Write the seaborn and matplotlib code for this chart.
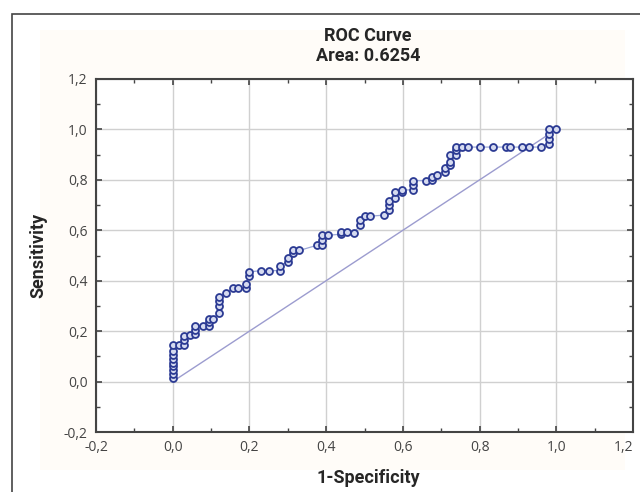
import matplotlib
matplotlib.use("Agg")
import matplotlib.pyplot as plt
import matplotlib.patches as mpatches
from matplotlib.ticker import MultipleLocator
import numpy as np
import pandas as pd
import seaborn as sns

# ROC 曲線數據
fpr = [0.0, 0.0, 0.0, 0.0, 0.0, 0.0, 0.0, 0.0, 0.0,
       0.016, 0.029, 0.029, 0.029, 0.044, 0.059, 0.059, 0.059,
       0.078, 0.094, 0.094, 0.094, 0.104,
       0.12, 0.12, 0.12, 0.12, 0.14, 0.156, 0.17, 0.19, 0.19,
       0.20, 0.20, 0.23, 0.25, 0.28, 0.28, 0.30, 0.30, 0.314, 0.314,
       0.33, 0.375, 0.39, 0.39, 0.39, 0.405, 0.44, 0.44, 0.455, 0.473,
       0.488, 0.488, 0.50, 0.515, 0.55, 0.564, 0.564, 0.564, 0.58, 0.58,
       0.598, 0.598, 0.627, 0.627, 0.627, 0.66, 0.675, 0.675, 0.69,
       0.709, 0.709, 0.722, 0.722, 0.722, 0.738, 0.738, 0.738,
       0.755, 0.77, 0.80, 0.835, 0.868, 0.88, 0.91, 0.93, 0.96,
       0.98, 0.98, 0.98, 0.98, 1.0]
tpr = [0.015, 0.03, 0.045, 0.06, 0.075, 0.09, 0.105, 0.12, 0.145,
       0.146, 0.146, 0.165, 0.18, 0.186, 0.19, 0.205, 0.22,
       0.22, 0.22, 0.235, 0.25, 0.25,
       0.27, 0.30, 0.32, 0.336, 0.35, 0.37, 0.37, 0.37, 0.385,
       0.42, 0.435, 0.44, 0.44, 0.44, 0.46, 0.475, 0.49, 0.51, 0.52,
       0.52, 0.54, 0.54, 0.56, 0.58, 0.58, 0.585, 0.595, 0.595, 0.59,
       0.62, 0.64, 0.656, 0.656, 0.66, 0.68, 0.70, 0.715, 0.73, 0.75,
       0.75, 0.76, 0.76, 0.78, 0.797, 0.797, 0.80, 0.81, 0.82,
       0.833, 0.846, 0.86, 0.872, 0.898, 0.898, 0.918, 0.93,
       0.93, 0.93, 0.93, 0.93, 0.93, 0.93, 0.93, 0.93, 0.93,
       0.944, 0.963, 0.983, 1.0, 1.0]
diag = [0.0, 1.0]

ticks = [-0.2, 0.0, 0.2, 0.4, 0.6, 0.8, 1.0, 1.2]
tick_labels = ["-0,2", "0,0", "0,2", "0,4", "0,6", "0,8", "1,0", "1,2"]

title_text = "ROC Curve\nArea: 0.6254"
xlabel_text = "1-Specificity"
ylabel_text = "Sensitivity"

df = pd.DataFrame({"fpr": fpr, "tpr": tpr})

sns.set_style("ticks")
plt.rcParams['font.family'] = ['Open Sans', 'DejaVu Sans']
bold_family = ['Roboto', 'DejaVu Sans']

fig = plt.figure(figsize=(6.4, 4.92), dpi=100)

# 外框與淡色背景
fig.patches.append(mpatches.Rectangle((40 / 640, 1 - 470 / 492), 585 / 640, 440 / 492,
                                      transform=fig.transFigure, facecolor="#fffcf8",
                                      edgecolor="none", zorder=-2))
fig.patches.append(mpatches.Rectangle((12 / 640, -0.1), 1.2, 1 - 14 / 492 + 0.1,
                                      transform=fig.transFigure, facecolor="none",
                                      edgecolor="#444444", lw=1.2, zorder=-1))

ax = fig.add_axes([96 / 640, 1 - 432 / 492, (633 - 96) / 640, (432 - 79) / 492])
ax.set_zorder(3)
ax.set_facecolor("white")

ax.plot(diag, diag, color="#9c9ccf", lw=1.0, zorder=2)
sns.lineplot(data=df, x="fpr", y="tpr", sort=False, estimator=None, ax=ax,
             color="#9aa6d6", lw=0.9, marker="o", markersize=5,
             markerfacecolor="#d6dbf0", markeredgecolor="#2b3a93",
             markeredgewidth=1.3, zorder=3)

ax.set_xlim(-0.2, 1.2)
ax.set_ylim(-0.2, 1.2)
ax.set_xticks(ticks, tick_labels)
ax.set_yticks(ticks, tick_labels)
ax.xaxis.set_minor_locator(MultipleLocator(0.1))
ax.yaxis.set_minor_locator(MultipleLocator(0.1))
ax.grid(True, which="major", color="#d0d0d0", lw=1.0)
ax.tick_params(which="both", direction="in", top=True, right=True,
               color="#444444", labelsize=10, labelcolor="#444444")
ax.tick_params(which="major", length=4, width=1.2, pad=6)
ax.tick_params(which="minor", length=3, width=1.0)
for s in ax.spines.values():
    s.set_color("#444444")
    s.set_linewidth(1.5)

# 最右邊的刻度標籤靠右對齊，避免被裁切
ax.get_xticklabels()[-1].set_horizontalalignment("right")

ax.set_xlabel("")
ax.set_ylabel("")
fig.text(368 / 640, 1 - 46 / 492, title_text, ha="center", va="center",
         fontsize=13, fontweight="bold", family=bold_family, linespacing=1.2)
fig.text(368 / 640, 1 - 478 / 492, xlabel_text, ha="center", va="center",
         fontsize=13, fontweight="bold", family=bold_family)
fig.text(38 / 640, 1 - 255 / 492, ylabel_text, ha="center", va="center",
         rotation=90, fontsize=13, fontweight="bold", family=bold_family)

fig.savefig("out.png", dpi=100)
